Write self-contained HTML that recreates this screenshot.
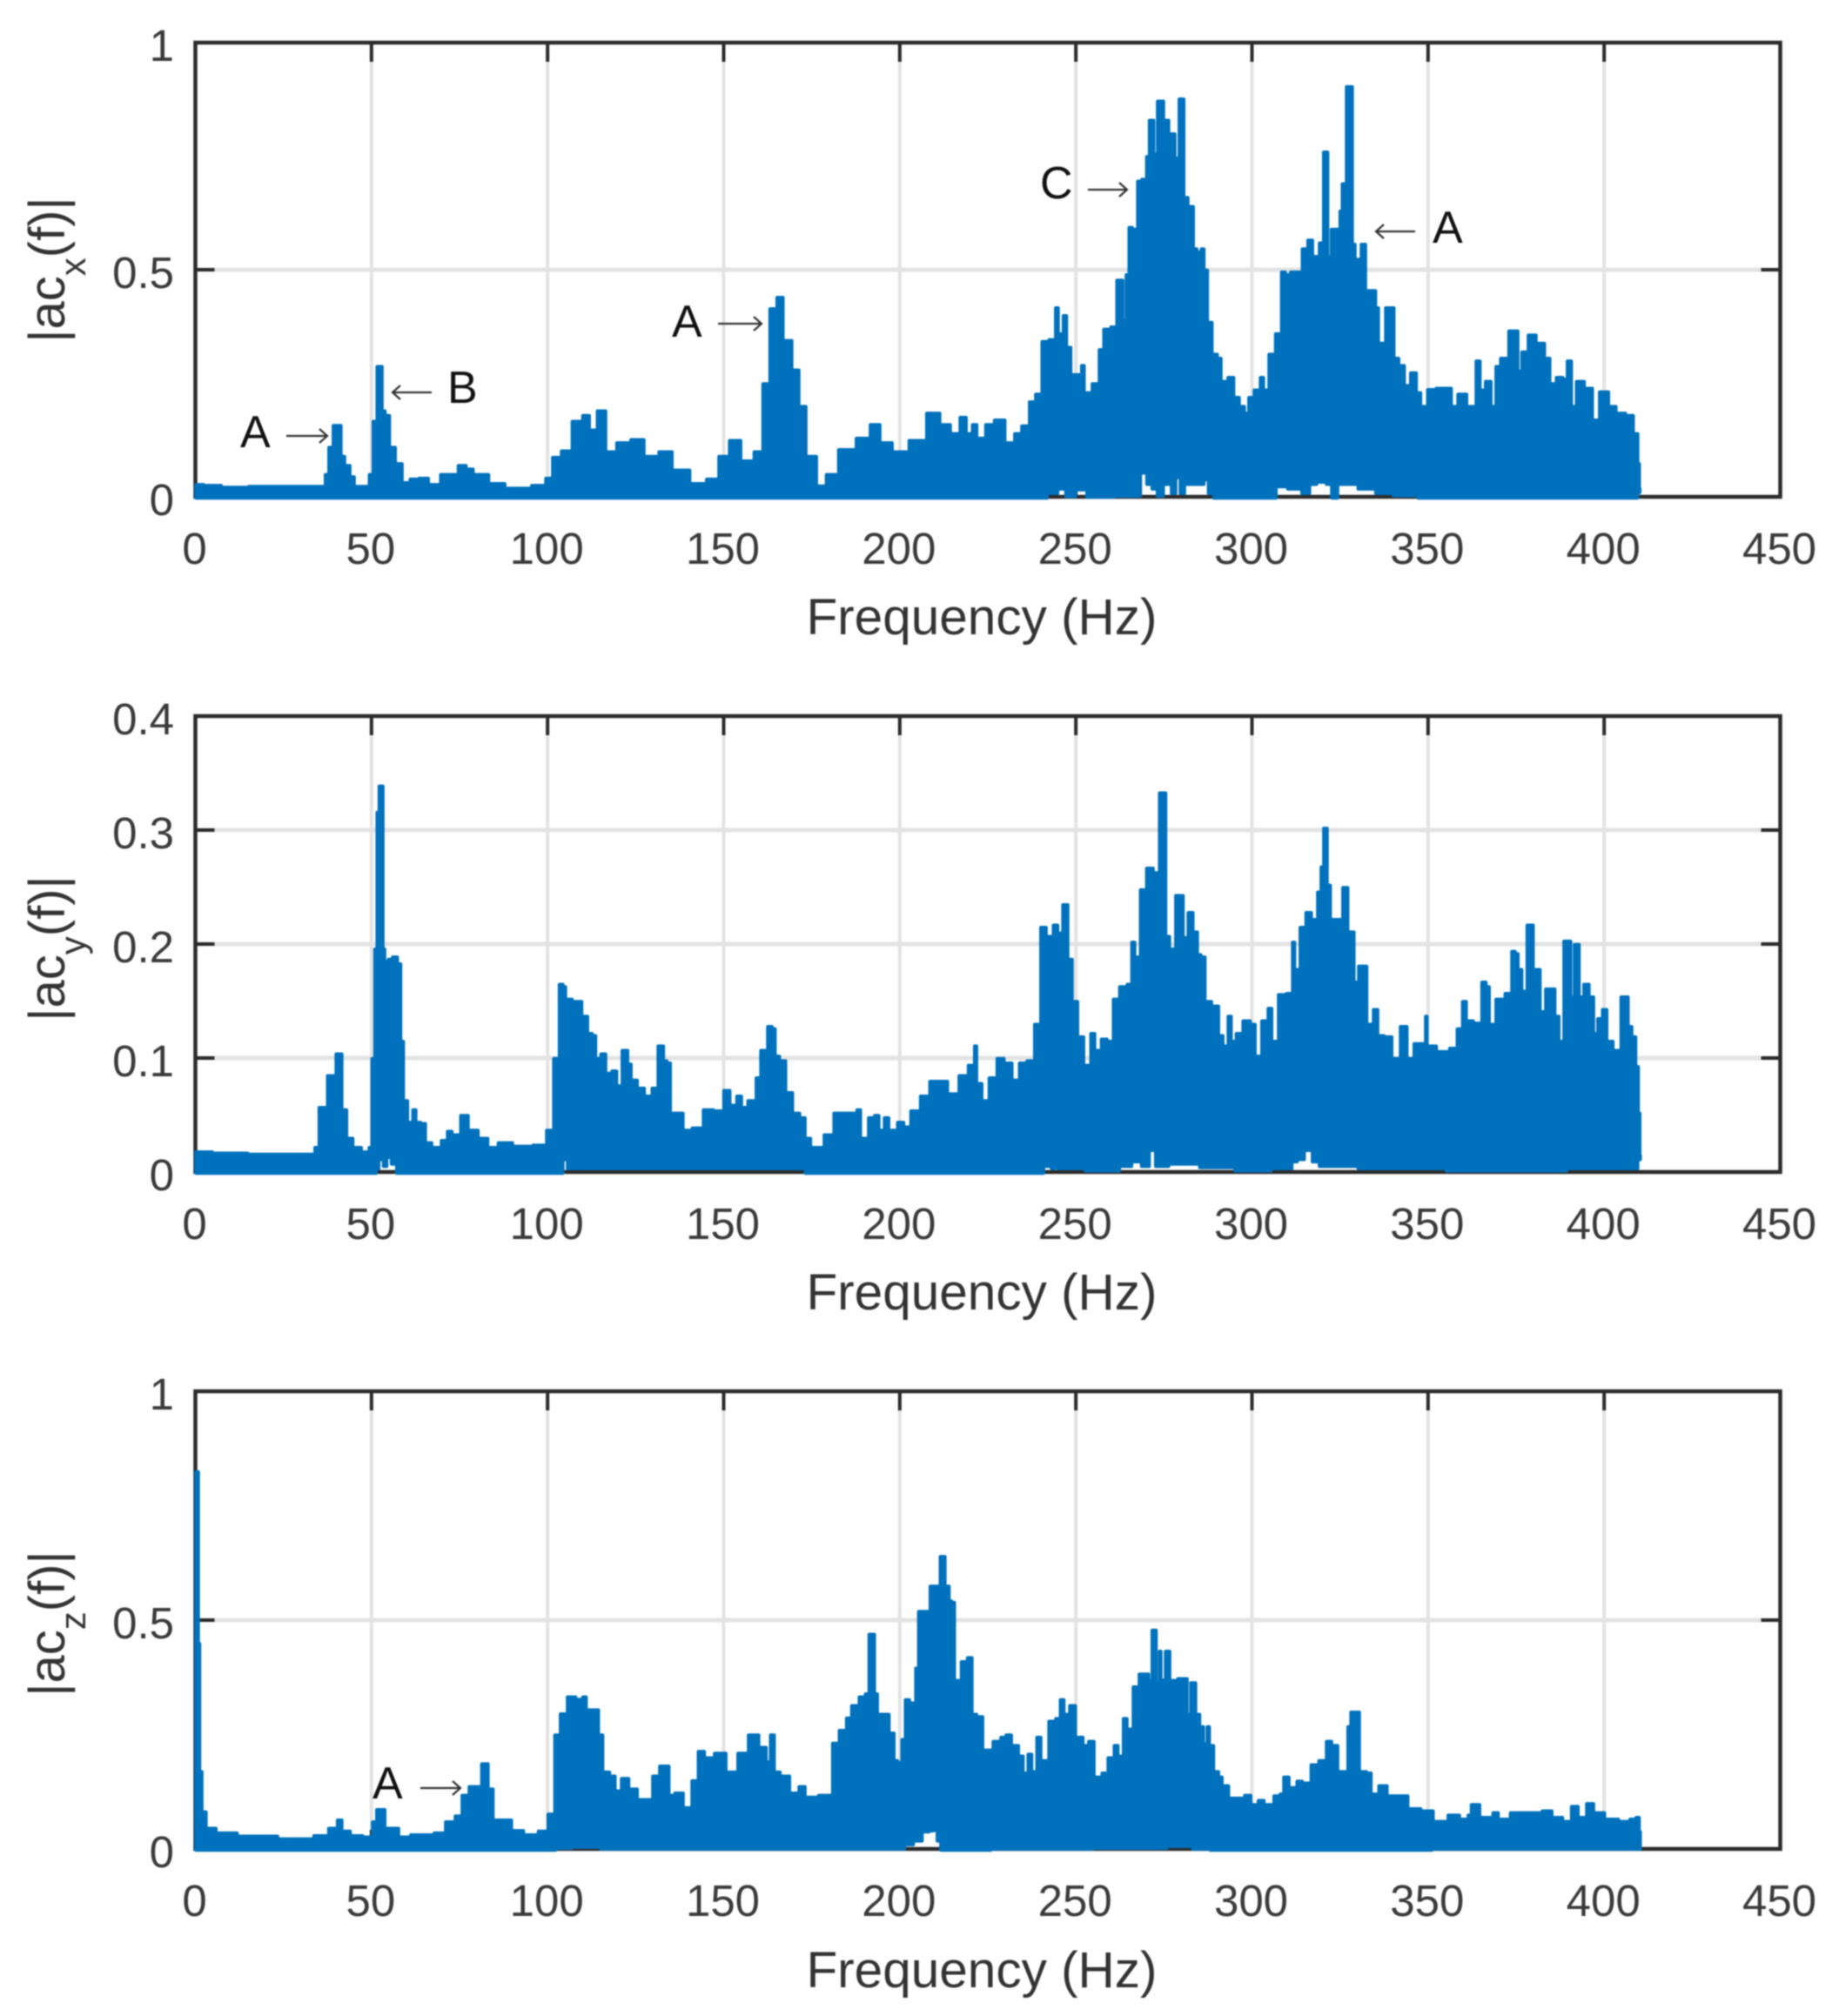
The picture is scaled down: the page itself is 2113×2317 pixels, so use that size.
<!DOCTYPE html>
<html lang="en">
<head>
<meta charset="utf-8">
<title>Acceleration spectra</title>
<style>
html,body{margin:0;padding:0;background:#fff;}
svg{display:block;filter:blur(0.8px);}
text{font-family:"Liberation Sans",Arial,sans-serif;}
</style>
</head>
<body>
<svg id="chart" xmlns="http://www.w3.org/2000/svg" width="2113" height="2317" viewBox="0 0 2113 2317">
<rect x="0" y="0" width="2113" height="2317" fill="#ffffff"/>
<g id="plots"></g>

<g fill="#333333" font-size="58">
<text transform="translate(74 310) rotate(-90)" text-anchor="middle">|ac<tspan font-size="42" dy="24">x</tspan><tspan dy="-24">(f)|</tspan></text>
<text transform="translate(74 1090) rotate(-90)" text-anchor="middle">|ac<tspan font-size="42" dy="24">y</tspan><tspan dy="-24">(f)|</tspan></text>
<text transform="translate(74 1866) rotate(-90)" text-anchor="middle">|ac<tspan font-size="42" dy="24">z</tspan><tspan dy="-24">(f)|</tspan></text>
</g>

<g fill="#333333" font-size="58.5" text-anchor="middle">
<text x="1128" y="729">Frequency (Hz)</text>
<text x="1128" y="1505">Frequency (Hz)</text>
<text x="1128" y="2284">Frequency (Hz)</text>
</g>

<g fill="#111111" font-size="52">
<text x="276" y="514">A</text>
<text x="514" y="463">B</text>
<text x="772" y="387">A</text>
<text x="1195" y="228">C</text>
<text x="1646" y="279">A</text>
<text x="428" y="2067">A</text>
</g>
<g fill="none" stroke="#333333" stroke-width="2.2">
<path d="M329 501H376M367 493L376 501L367 509"/>
<path d="M496 451H451M460 443L451 451L460 459"/>
<path d="M825 372H875M866 364L875 372L866 380"/>
<path d="M1250 218H1295M1286 210L1295 218L1286 226"/>
<path d="M1626 266H1581M1590 258L1581 266L1590 274"/>
<path d="M483 2055H529M520 2047L529 2055L520 2063"/>
</g>
</svg>

<script>
const xTicks = [0, 50, 100, 150, 200, 250, 300, 350, 400, 450];
const xTickLabels = ["0", "50", "100", "150", "200", "250", "300", "350", "400", "450"];

const yTicksX = [0, 0.5, 1];
const yTickLabelsX = ["0", "0.5", "1"];
const yTicksY = [0, 0.1, 0.2, 0.3, 0.4];
const yTickLabelsY = ["0", "0.1", "0.2", "0.3", "0.4"];
const yTicksZ = [0, 0.5, 1];
const yTickLabelsZ = ["0", "0.5", "1"];

const freqX = [0,5,10,20,30,36.5,37,38.5,39.5,41,42,43,45,45.5,48.7,49.8,50.9,52,53,53.3,54.7,55.8,58,59.7,62,64.6,68,71,73,76,78,80,82.8,84,92,98.7,100,102.6,105,108.7,111,113,115,116.3,117,122,125,130,133,138,143,147,150,153,157,160,162,164,166,168,171,172,175,178,180,185,190,193,196,200,205,210,213,216,218,220,221,223,225.5,228,232,233,236,237.4,239.5,241,243.5,244.7,245.6,247,248,249.4,251,252,253,256,257,258.6,261,262,263.2,263.7,264.6,265.3,267,267.8,269.4,270.5,271,272.1,272.4,273.7,274.8,275.3,277.7,278.8,279.6,280.7,280.9,283,284,285,286,287,288,289.6,291,291.7,294.4,295.5,297.6,298.4,299.5,301.5,303,303.8,305.6,307.5,309,310.3,310.6,311,313.5,314.8,316.7,318,320,320.4,321.5,321.8,323,324.7,325,326,327.4,328.5,328.8,330,331.8,333,335,335.5,336.6,339,340.3,340.6,343,343.8,346,347.6,348.5,351,353.3,356.5,357,359.7,362.5,364.5,365.3,367,369,369.3,371.6,374,375.3,376,377,379.6,382,384.4,385,387.6,389.2,389.6,390.7,391,393,396,397.6,399.5,400.8,402,405,407.4,409.4,410,410.3];
const upperX = [.028,.026,.022,.024,.024,.024,.05,.11,.158,.158,.09,.07,.045,.024,.024,.05,.167,.288,.288,.19,.18,.11,.074,.032,.04,.042,.028,.05,.05,.07,.062,.05,.05,.03,.02,.026,.042,.088,.102,.167,.18,.148,.19,.19,.1,.12,.127,.09,.1,.06,.03,.04,.09,.125,.08,.1,.25,.415,.44,.345,.28,.2,.09,.025,.05,.105,.13,.16,.12,.1,.125,.185,.16,.14,.176,.14,.16,.13,.16,.17,.12,.14,.157,.21,.227,.343,.347,.417,.36,.40,.33,.27,.27,.29,.23,.25,.325,.37,.375,.478,.478,.39,.49,.594,.59,.696,.70,.75,.83,.83,.755,.872,.872,.83,.80,.747,.877,.877,.66,.64,.547,.54,.547,.50,.385,.315,.306,.255,.264,.22,.2,.185,.22,.236,.264,.236,.315,.36,.496,.49,.38,.496,.496,.547,.566,.53,.56,.76,.76,.53,.59,.59,.63,.69,.904,.904,.557,.524,.557,.455,.455,.417,.339,.417,.417,.306,.29,.246,.274,.23,.2,.237,.24,.24,.2,.227,.2,.3,.236,.255,.2,.288,.306,.366,.366,.278,.32,.357,.339,.306,.25,.264,.26,.3,.3,.2,.255,.24,.17,.232,.232,.2,.185,.18,.14,.074,.02];
const lowFreqX = [0,38,240,244,246,248,252,254,268,269,271,272,274,276,278,279,280,282,286,287,288,290,306,308,312,316,317,320,322,323,326,334,336,344,350,409,410.3];
const lowerX = [0,0,0,.01,.02,.003,.018,.002,.004,.055,.03,.02,.004,.03,.01,.045,.01,.03,.03,.04,.01,0,0,.025,.02,.01,.03,.035,.03,0,.03,.02,.01,.005,0,0,.012];

const freqY = [0,10,20,33,34.6,35.4,37,37.8,39.4,40.2,41.3,42.2,44,45.7,48.8,49.6,50.4,51.2,51.7,52.4,53.3,53.5,54.3,55,56.7,58.3,58.6,59.8,61,62.2,63.3,64.9,66,68.5,70.9,72,74,76.4,78.8,82,84.3,87.4,93,98.4,100.8,102.4,104,105,105.5,108.7,111,112,113.6,114,116,117.3,119,120.5,121.6,122.5,123.3,124.4,126.8,128.4,130.7,131.8,132.7,133.4,134.6,135.4,137.8,139.4,142.5,145.7,148.8,151,152.8,154.4,156,157.5,158.8,159.4,161.4,163.3,164.5,165,167,168.5,170.9,172.5,174,175.6,177.2,179.6,182.7,187.4,188,190,192,193.4,195,196,198,200.5,202,204,207.5,209.3,212,215.4,218,220.7,221.5,222.4,224.5,226,229,230.5,231,233,234.7,237.3,239,240.8,242.6,244.3,245.7,246.6,247.5,248.2,250,251.3,253.4,254.8,256.2,258,260,261,263.6,265.3,266.2,267.5,268.9,271,273.2,274,275.4,275.9,277.6,278.8,280.2,281,282.5,284.3,285,286.3,287.3,290,291.3,292.5,293.7,294.8,296,298.6,300.7,301.4,303.9,305,306.5,308.3,311,311.8,312.7,314.4,316,318,319,320,320.5,321.2,321.8,323,325,326.3,327.2,327.5,328.9,329.3,331,332.2,333.3,335.4,336.3,339,340.7,343.3,345,346.8,348.9,349.4,350.3,354.7,357.3,359,360.3,361.7,364.3,366,367.2,367.8,370.5,373,374.3,375.4,376,377.5,378.5,379.7,380.3,381.9,382,384.5,385.7,386.6,388,388.9,390.3,391,391.8,392.9,393.2,395,396.7,397.6,398.5,400.3,401.5,403.8,405.5,406.6,407.3,408.7,409.5,410.2,410.4];
const upperY = [.018,.017,.016,.016,.022,.057,.057,.085,.085,.104,.104,.055,.03,.022,.018,.022,.1,.196,.316,.339,.339,.196,.185,.187,.189,.183,.115,.063,.044,.055,.044,.043,.026,.022,.028,.036,.033,.05,.037,.03,.022,.026,.023,.024,.037,.1,.165,.163,.152,.15,.137,.122,.12,.1,.104,.087,.089,.076,.107,.107,.095,.081,.074,.067,.074,.111,.111,.098,.096,.052,.052,.037,.039,.055,.054,.072,.059,.067,.057,.063,.063,.083,.107,.128,.126,.102,.098,.07,.052,.048,.03,.022,.022,.033,.052,.052,.055,.03,.048,.05,.037,.048,.037,.044,.04,.054,.067,.08,.08,.069,.085,.094,.111,.078,.063,.083,.1,.096,.096,.081,.096,.098,.13,.215,.207,.217,.21,.235,.235,.187,.15,.119,.094,.122,.107,.117,.115,.152,.163,.165,.202,.189,.248,.267,.263,.333,.333,.207,.196,.243,.243,.206,.228,.211,.191,.189,.15,.146,.12,.111,.137,.115,.122,.133,.13,.102,.133,.144,.115,.156,.157,.202,.178,.215,.228,.222,.246,.268,.302,.302,.252,.222,.222,.25,.25,.211,.211,.167,.181,.181,.13,.143,.12,.119,.1,.128,.1,.113,.113,.137,.111,.106,.109,.126,.15,.133,.131,.167,.163,.13,.152,.157,.194,.192,.178,.159,.217,.217,.178,.178,.141,.161,.161,.137,.115,.203,.203,.154,.2,.2,.154,.165,.154,.122,.135,.143,.115,.107,.154,.154,.128,.119,.093,.052,.015];
const lowFreqY = [0,51,52,52.5,54,55,56,58,104,105,106,240,242,243.8,244.2,245,260,265,267,270,272,273,280,290,300,311,312,314,316,318,320,340,370,409,410.4];
const lowerY = [0,0,.004,.012,.006,.014,.008,0,0,.012,.004,0,.006,.004,.018,.004,.002,.006,.01,.006,.02,.006,.008,.005,.002,.004,.01,.012,.02,.01,.006,.004,.002,.004,.012];

const freqZ = [0,0.9,1.1,1.6,2.4,4,8,16,31,36,39.4,41,42.5,45.7,49.6,50.7,52,53.6,54.3,56.7,59,63,66,69.3,72.5,74.8,76.4,78.8,80.7,81.6,83,83.5,85.8,88.5,91.3,95.3,99.2,100.8,103,104,107,109.3,110.4,111.8,114.2,115,116.6,118.9,119.7,122,124.4,126.8,129,130.4,133,134.5,134.7,137.3,140,141.7,143.6,145.7,148.8,152.8,155,158.8,161.4,163,163.3,164.4,164.6,167.7,170,172.5,174,179.6,182,183.4,184.5,185,187.4,189.3,190.9,191.4,192.7,193.2,194.4,196.2,198,199,200,200.9,202,203.8,205,205.4,207.5,208,209,209.7,210.7,212,212.3,213.7,214.6,215,216.3,218.4,219.8,221.5,222.4,225,227.7,229.4,230.7,233,234.7,235.6,237,238.2,239.4,241,243.4,244.9,246,247.5,248.7,251.3,253,254,256.6,258,260,261.5,262.7,264,265.3,267,268.7,270.6,271,272,272.7,273.2,274,274.6,276,277.6,280,281.5,282,283,283.7,284.6,286,286.7,287.6,288.5,290,291.3,292,295,297,298.6,301,302.3,304.8,307.4,308.3,309.5,311.8,313.5,315.3,318,319.7,322.3,323.2,325.8,326.7,327.5,328.4,329.3,332,333.3,334.6,337.2,339.8,342,346.8,349.4,353.8,357.3,360.8,361.7,362.6,367,369.6,370.5,376,381,383.6,387,389.7,391.5,394,395.8,398.5,402,406.4,408,409.8,410.4];
const upperZ = [.825,.825,.45,.17,.082,.046,.036,.029,.023,.03,.046,.064,.04,.03,.027,.06,.087,.087,.046,.046,.027,.032,.032,.036,.06,.073,.118,.137,.137,.187,.187,.132,.064,.064,.041,.032,.04,.077,.25,.296,.333,.328,.333,.305,.305,.25,.169,.16,.128,.155,.132,.109,.109,.16,.182,.182,.118,.123,.091,.15,.214,.2,.21,.169,.21,.25,.223,.191,.25,.25,.169,.16,.123,.137,.114,.118,.232,.26,.26,.287,.314,.333,.34,.47,.47,.34,.295,.295,.254,.194,.19,.24,.327,.32,.396,.52,.52,.52,.575,.575,.575,.64,.64,.575,.543,.54,.369,.41,.419,.295,.29,.217,.236,.245,.25,.227,.204,.167,.208,.17,.245,.194,.28,.286,.327,.295,.314,.245,.227,.236,.158,.167,.2,.227,.204,.286,.263,.355,.383,.383,.369,.479,.479,.364,.433,.37,.433,.369,.373,.373,.295,.364,.364,.295,.268,.231,.268,.227,.17,.158,.139,.112,.112,.118,.098,.107,.098,.117,.121,.158,.135,.149,.145,.185,.194,.236,.227,.17,.17,.268,.3,.3,.17,.167,.121,.139,.117,.117,.089,.084,.061,.075,.066,.075,.098,.07,.08,.066,.08,.08,.084,.07,.061,.094,.07,.1,.08,.066,.061,.066,.07,.039,.006];
const lowFreqZ = [0,101,104,110,120,145,200,203,205,208,209,210,211,212,240,270,282,284,292,410.4];
const lowerZ = [0,0,.004,.006,.002,.002,.002,.012,.02,.04,.042,.043,.02,0,.002,.004,.008,.002,0,.002];

const SVG_NS = "http://www.w3.org/2000/svg";
const INK = "#2b2b2b";
const TICK_TEXT = "#3a3a3a";
const GRID = "#e3e3e3";
const BLUE = "#0071bc";
const plotsGroup = document.getElementById("plots");

function makeScale(d0, d1, r0, r1) {
  return function (v) { return r0 + (v - d0) * (r1 - r0) / (d1 - d0); };
}

function drawPanel(key, box, yMax, yTicks, yLabels, freq, upper, lowFreq, lower) {
  const sx = makeScale(0, 450, box.left, box.right);
  const sy = makeScale(0, yMax, box.bottom, box.top);
  const g = document.createElementNS(SVG_NS, "g");
  
  
  plotsGroup.appendChild(g);

  xTicks.forEach(function (t, i) {
    const x = sx(t);
    if (t > 0 && t < 450) {
      const grid = document.createElementNS(SVG_NS, "line");
      
      
      grid.setAttribute("x1", x); grid.setAttribute("x2", x);
      grid.setAttribute("y1", box.top); grid.setAttribute("y2", box.bottom);
      grid.setAttribute("stroke", GRID); grid.setAttribute("stroke-width", 4);
      g.appendChild(grid);
    }
  });
  yTicks.forEach(function (t) {
    if (t > 0 && t < yMax) {
      const y = sy(t);
      const grid = document.createElementNS(SVG_NS, "line");
      
      
      grid.setAttribute("x1", box.left); grid.setAttribute("x2", box.right);
      grid.setAttribute("y1", y); grid.setAttribute("y2", y);
      grid.setAttribute("stroke", GRID); grid.setAttribute("stroke-width", 5);
      g.appendChild(grid);
    }
  });

  const frame = document.createElementNS(SVG_NS, "rect");
  
  
  frame.setAttribute("x", box.left); frame.setAttribute("y", box.top);
  frame.setAttribute("width", box.right - box.left);
  frame.setAttribute("height", box.bottom - box.top);
  frame.setAttribute("fill", "none");
  frame.setAttribute("stroke", INK); frame.setAttribute("stroke-width", 4.5);
  g.appendChild(frame);

  const tickLen = 22;
  xTicks.forEach(function (t, i) {
    const x = sx(t);
    const tick = document.createElementNS(SVG_NS, "path");
    
    
    tick.setAttribute("d", "M" + x + " " + box.top + "v" + tickLen + "M" + x + " " + box.bottom + "v" + (-tickLen));
    tick.setAttribute("stroke", INK); tick.setAttribute("stroke-width", 4);
    tick.setAttribute("fill", "none");
    g.appendChild(tick);

    const label = document.createElementNS(SVG_NS, "text");
    
    
    label.setAttribute("x", x - 1); label.setAttribute("y", box.bottom + 77);
    label.setAttribute("text-anchor", "middle");
    label.setAttribute("font-size", 51);
    label.setAttribute("fill", TICK_TEXT);
    label.textContent = xTickLabels[i];
    g.appendChild(label);
  });
  yTicks.forEach(function (t, i) {
    const y = sy(t);
    const tick = document.createElementNS(SVG_NS, "path");
    
    
    tick.setAttribute("d", "M" + box.left + " " + y + "h" + tickLen + "M" + box.right + " " + y + "h" + (-tickLen));
    tick.setAttribute("stroke", INK); tick.setAttribute("stroke-width", 4);
    tick.setAttribute("fill", "none");
    g.appendChild(tick);

    const label = document.createElementNS(SVG_NS, "text");
    
    
    label.setAttribute("x", 200); label.setAttribute("y", y + 21);
    label.setAttribute("text-anchor", "end");
    label.setAttribute("font-size", 51);
    label.setAttribute("fill", TICK_TEXT);
    label.textContent = yLabels[i];
    g.appendChild(label);
  });

  // Stepped outline: each reading is held to the midpoint of its neighbours,
  // which reproduces the vertical, comb-like edge of the dense spectrum.
  let d = "M" + sx(freq[0]).toFixed(1) + " " + sy(upper[0]).toFixed(1);
  for (let i = 1; i < freq.length; i++) {
    d += "H" + sx((freq[i - 1] + freq[i]) / 2).toFixed(1) + "V" + sy(upper[i]).toFixed(1);
  }
  d += "H" + sx(freq[freq.length - 1]).toFixed(1);
  const lastLow = lowFreq.length - 1;
  d += "V" + (sy(lower[lastLow]) + 2).toFixed(1);
  for (let j = lastLow - 1; j >= 0; j--) {
    d += "H" + sx((lowFreq[j] + lowFreq[j + 1]) / 2).toFixed(1) + "V" + (sy(lower[j]) + 2).toFixed(1);
  }
  d += "H" + sx(lowFreq[0]).toFixed(1) + "Z";
  const series = document.createElementNS(SVG_NS, "path");
  
  
  series.setAttribute("d", d);
  series.setAttribute("fill", BLUE);
  series.setAttribute("stroke", BLUE);
  series.setAttribute("stroke-width", 2.5);
  series.setAttribute("stroke-linejoin", "bevel");
  g.appendChild(series);
}

drawPanel("x", {left: 224.5, right: 2045.5, top: 49, bottom: 571}, 1, yTicksX, yTickLabelsX, freqX, upperX, lowFreqX, lowerX);
drawPanel("y", {left: 224.5, right: 2045.5, top: 823, bottom: 1347}, 0.4, yTicksY, yTickLabelsY, freqY, upperY, lowFreqY, lowerY);
drawPanel("z", {left: 224.5, right: 2045.5, top: 1599, bottom: 2125}, 1, yTicksZ, yTickLabelsZ, freqZ, upperZ, lowFreqZ, lowerZ);
</script>
</body>
</html>
